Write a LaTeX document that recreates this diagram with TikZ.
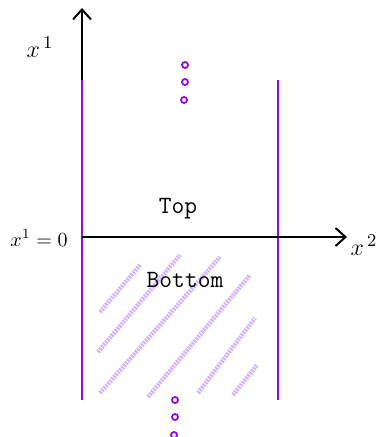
\documentclass[tikz,border=0pt]{standalone}
\usetikzlibrary{arrows.meta}
\definecolor{lineviolet}{RGB}{145,10,225}
\definecolor{hatchviolet}{RGB}{212,180,248}
\begin{document}
\begin{tikzpicture}[x=0.5pt,y=-0.5pt,
  axis/.style={line width=1pt,black,-{Straight Barb[length=5pt,width=9pt,line width=1pt]}},
  wall/.style={line width=1.1pt,lineviolet},
  dot/.style={circle,draw=lineviolet,line width=0.9pt,inner sep=0pt,minimum size=3pt},
  hatch/.style={line width=2.2pt,hatchviolet,dash pattern=on 1pt off 0.5pt},
  lbl/.style={font=\ttfamily\fontsize{12.4}{14}\selectfont}]
\useasboundingbox (0,0) rectangle (376,437);
% axes
\coordinate (vb) at (82,300);
\coordinate (vt) at (82,8);
\coordinate (hl) at (82,237);
\coordinate (hr) at (347,237);
\draw[axis] (vb) -- (vt);
% walls
\coordinate (lw1) at (82,80); \coordinate (lw2) at (82,400);
\coordinate (rw1) at (278,80); \coordinate (rw2) at (278,400);
\draw[wall] (lw1) -- (lw2);
\draw[wall] (rw1) -- (rw2);
\draw[axis] (hl) -- (hr);
% hatching
\draw[hatch] (100,312) -- (140,265);
\draw[hatch] (98,352) -- (180,255);
\draw[hatch] (100,393) -- (220,257);
\draw[hatch] (148,397) -- (250,275);
\draw[hatch] (198,393) -- (255,318);
\draw[hatch] (233,395) -- (257,365);
% dots
\node[dot] (d1) at (185,65) {};
\node[dot] (d2) at (185,82) {};
\node[dot] (d3) at (184,100) {};
\node[dot] (d4) at (175,400) {};
\node[dot] (d5) at (175,417) {};
\node[dot] (d6) at (174,435) {};
% labels
\node[font=\fontsize{12.5}{14}\selectfont] (lx1) at (40,47) {$x^{\,1}$};
\node[font=\fontsize{12.5}{14}\selectfont] (lx2) at (364,245) {$x^{\,2}$};
\node[font=\fontsize{10}{12}\selectfont] (lx0) at (39,238) {$x^1=0$};
\node[lbl] (top) at (178,209) {Top};
\node[lbl] (bot) at (185,280) {Bottom};
\end{tikzpicture}
\end{document}
